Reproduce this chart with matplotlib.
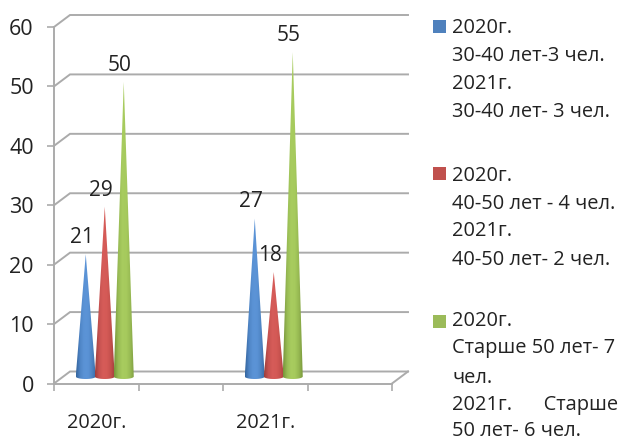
import matplotlib

matplotlib.use("Agg")
import matplotlib.pyplot as plt
import numpy as np
from matplotlib.colors import LinearSegmentedColormap
from matplotlib.patches import Polygon, Rectangle

plt.rcParams["font.family"] = ["Open Sans", "DejaVu Sans"]

# data
years = ["2020г.", "2021г."]
year_pos = [0.5, 2.5]
vals_30_40 = [21, 27]
vals_40_50 = [29, 18]
vals_50_up = [50, 55]
y_ticks = [0, 10, 20, 30, 40, 50, 60]
legend_lines = [
    "2020г.", "30-40 лет-3 чел.", "2021г.", "30-40 лет- 3 чел.",
    "2020г.", "40-50 лет - 4 чел.", "2021г.", "40-50 лет- 2 чел.",
    "2020г.", "Старше 50 лет- 7", "чел.", "2021г.      Старше", "50 лет- 6 чел.",
]

W, H = 623, 441
L, R, B, T = 54, 392, 383.5, 27
GRID = "#ababab"
TXT = "#222222"

fig = plt.figure(figsize=(W / 100, H / 100), dpi=100)
ax = fig.add_axes([L / W, 1 - B / H, (R - L) / W, (B - T) / H])
ax.set_xlim(0, 4)
ax.set_ylim(0, 60)
px_x = 4 / (R - L)
px_y = 60 / (B - T)
depth_x, depth_y = 16 * px_x, 12 * px_y

# back wall + floor
for v in y_ticks:
    ax.plot([0, depth_x, 4 + depth_x], [v, v + depth_y, v + depth_y],
            color=GRID, lw=1.4, clip_on=False, zorder=1, solid_joinstyle="miter")
ax.plot([4, 4 + depth_x], [0, depth_y], color=GRID, lw=1.4, clip_on=False, zorder=1)

for side in ("top", "right"):
    ax.spines[side].set_visible(False)
for side in ("left", "bottom"):
    ax.spines[side].set_color(GRID)
    ax.spines[side].set_linewidth(1.4)
ax.set_yticks(y_ticks)
ax.tick_params(axis="y", length=5, width=1.2, color=GRID, labelsize=15.5, labelcolor=TXT, pad=9.5)
ax.set_xticks(range(5))
ax.set_xticklabels([])
ax.tick_params(axis="x", length=5, width=1.2, color=GRID)
ax.set_xticks(year_pos, labels=years, minor=True)
ax.tick_params(axis="x", which="minor", length=0, labelsize=14.3, labelcolor=TXT, pad=21)

# edge, lit centre, edge
cone_maps = [
    ["#34659e", "#4f85c6", "#5b93d6", "#5b93d6", "#4f85c4", "#3a6ca6"],
    ["#9c3e3b", "#c65250", "#d65c59", "#d45a56", "#c4504d", "#a03e3b"],
    ["#76953a", "#98bb54", "#a8cc5f", "#a6ca5d", "#96b852", "#7a993c"],
]
series = [vals_30_40, vals_40_50, vals_50_up]
half_w = 10 * px_x
base_y = 4.5 * px_y
ell_h = 2.5 * px_y
offs = np.array([-10.5, 8.5, 27.5]) * px_x
t = np.linspace(np.pi, 2 * np.pi, 30)

for vals, colors, off in zip(series, cone_maps, offs):
    cmap = LinearSegmentedColormap.from_list("cone", colors)
    for pos, v in zip(year_pos, vals):
        xc = pos + off
        tip_y = v + base_y
        # base arc, bottom edge touches base_y
        xs = xc + half_w * np.cos(t)
        ys = base_y + ell_h + ell_h * np.sin(t)
        verts = [(xc, tip_y)] + list(zip(xs, ys))
        poly = Polygon(verts, closed=True, transform=ax.transData, fc="none", ec="none")
        ax.add_patch(poly)
        im = ax.imshow(np.linspace(0, 1, 64).reshape(1, -1), cmap=cmap, aspect="auto",
                       interpolation="bilinear",
                       extent=[xc - half_w, xc + half_w, base_y, tip_y], zorder=3)
        im.set_clip_path(poly)
        ax.annotate(str(v), (xc, tip_y), xytext=(-3, 12), textcoords="offset points",
                    ha="center", va="center", fontsize=15, color=TXT, zorder=5,
                    annotation_clip=False)

ax.set_xlim(0, 4)
ax.set_ylim(0, 60)

# legend
line_y = [28, 56, 84, 112, 176, 204, 231, 260, 321, 348, 378, 405, 431]
for s, y in zip(legend_lines, line_y):
    fig.text(452 / W, 1 - y / H, s, fontsize=14.4, color=TXT, va="center", ha="left")
swatches = [(20, "#4f81bd"), (167, "#c0504d"), (315, "#9bbb59")]
for y, c in swatches:
    fig.add_artist(Rectangle((433 / W, 1 - (y + 13) / H), 13 / W, 13 / H,
                             transform=fig.transFigure, fc=c, ec="none"))

fig.savefig("out.png", dpi=100)
plt.close(fig)
